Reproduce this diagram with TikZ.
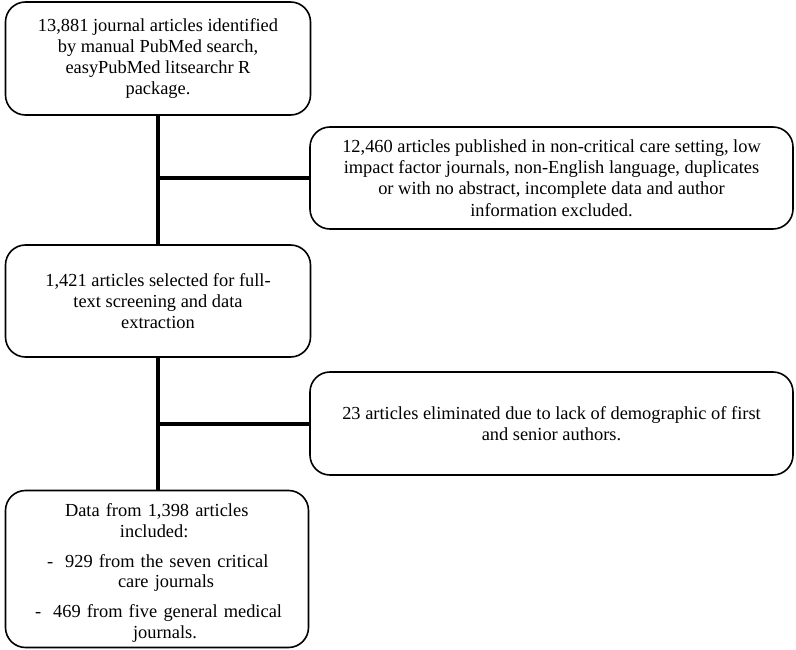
\documentclass[tikz,border=0pt]{standalone}
\usepackage{fontspec}
\setmainfont{Liberation Serif}
\begin{document}
\begin{tikzpicture}[x=1pt,y=-1pt,
  box/.style={draw, line width=1.6pt, rounded corners=20pt, align=center, inner sep=0pt,
    font=\fontsize{18.4}{21.3}\selectfont},
  conn/.style={line width=4pt}]
\useasboundingbox (0,0) rectangle (796,650);
\node[box, minimum width=305pt, minimum height=113pt] (b1) at (158,58.5)
  {13,881 journal articles identified\\ by manual PubMed search,\\ easyPubMed litsearchr R\\ package.};
\node[box, minimum width=483pt, minimum height=102pt] (b2) at (551.5,178)
  {12,460 articles published in non-critical care setting, low\\ impact factor journals, non-English language, duplicates\\ or with no abstract, incomplete data and author\\ information excluded.};
\node[box, minimum width=305pt, minimum height=112pt] (b3) at (158,301)
  {1,421 articles selected for full-\\ text screening and data\\ extraction};
\node[box, minimum width=483pt, minimum height=103pt] (b4) at (551.5,423.5)
  {23 articles eliminated due to lack of demographic of first\\ and senior authors.};
\node[box, minimum width=303pt, minimum height=157pt] (b5) at (157,569) {};
\node[align=left, text width=280pt, inner sep=0pt,
      font=\fontsize{18.4}{20.5}\selectfont] (b5t) at (157,573)
  {\hspace*{48pt}Data from 1,398 articles\\
   \hspace*{103pt}included:\\[9.5pt]
   \hspace*{30pt}-\hspace*{12pt}929 from the seven critical\\
   \hspace*{101pt}care journals\\[9.5pt]
   \hspace*{18pt}-\hspace*{12pt}469 from five general medical\\
   \hspace*{116pt}journals.};
\draw[conn] (b1.south) -- (b1.south |- b3.north);
\draw[conn] (b3.south) -- (b3.south |- b5.north);
\draw[conn] (b1.south |- b2.west) -- (b2.west);
\draw[conn] (b3.south |- b4.west) -- (b4.west);
\end{tikzpicture}
\end{document}
